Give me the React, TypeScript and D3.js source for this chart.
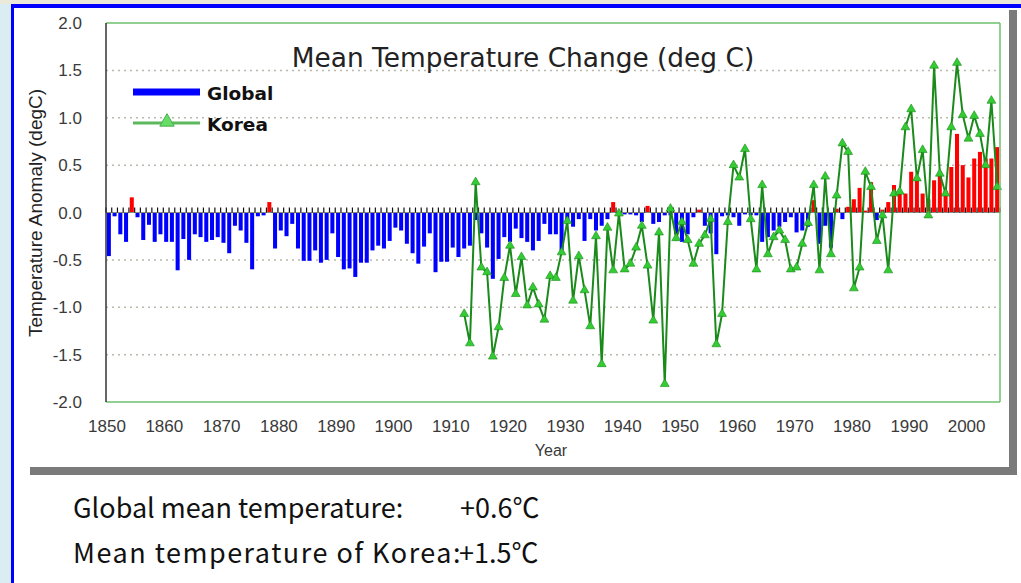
import React from "react";
import * as d3 from "d3";

// ---- Data ----
const globalStartYear = 1850;
const globalValues: number[] = [
  // 1850-1878
  -0.46, -0.04, -0.23, -0.31, 0.16, -0.05, -0.29, -0.13, -0.31, -0.23,
  -0.31, -0.31, -0.61, -0.28, -0.5, -0.23, -0.26, -0.31, -0.29, -0.26,
  -0.32, -0.43, -0.14, -0.19, -0.32, -0.6, -0.04, -0.03, 0.11,
  // 1879-1899
  -0.38, -0.19, -0.25, -0.12, -0.38, -0.51, -0.51, -0.4, -0.53, -0.5,
  -0.22, -0.47, -0.6, -0.59, -0.68, -0.53, -0.53, -0.4, -0.35, -0.38, -0.3,
  // 1900-1911
  -0.16, -0.19, -0.33, -0.43, -0.54, -0.36, -0.22, -0.63, -0.52, -0.52,
  -0.37, -0.47,
  // 1912-1958
  -0.38, -0.35, -0.08, -0.22, -0.37, -0.7, -0.49, -0.26, -0.31, -0.17,
  -0.27, -0.31, -0.4, -0.3, -0.12, -0.23, -0.23, -0.4, -0.1, -0.15,
  -0.07, -0.3, -0.07, -0.19, -0.14, -0.07, 0.11, -0.03, -0.02, -0.02,
  -0.03, -0.1, 0.07, -0.12, -0.1, -0.03, -0.03, -0.23, -0.31, -0.23,
  -0.05, 0.03, -0.14, -0.22, -0.44, -0.04, -0.03,
  // 1959-2005
  -0.05, -0.14, -0.02, -0.03, -0.03, -0.31, -0.26, -0.19, -0.15, -0.1,
  -0.05, -0.21, -0.19, -0.15, 0.13, -0.33, -0.14, -0.37, 0.04, -0.07,
  0.06, 0.14, 0.26, 0.02, 0.32, -0.08, 0.03, 0.11, 0.29, 0.22,
  0.2, 0.43, 0.37, 0.2, 0.14, 0.34, 0.43, 0.23, 0.48, 0.83,
  0.5, 0.37, 0.57, 0.64, 0.57, 0.57, 0.69,
];

const koreaStartYear = 1912;
const koreaValues: number[] = [
  // 1912-1958
  -1.07, -1.38, 0.32, -0.58, -0.63, -1.52, -1.21, -0.69, -0.35, -0.86,
  -0.47, -0.98, -0.79, -0.97, -1.13, -0.67, -0.69, -0.42, -0.09, -0.93,
  -0.46, -0.82, -1.2, -0.25, -1.6, -0.16, -0.61, -0.01, -0.6, -0.54,
  -0.37, -0.14, -0.56, -1.14, -0.21, -1.81, 0.04, -0.27, -0.1, -0.29,
  -0.54, -0.33, -0.24, -0.07, -1.39, -1.07, -0.1,
  // 1959-2005
  0.5, 0.37, 0.67, -0.07, -0.6, 0.29, -0.44, -0.26, -0.19, -0.29,
  -0.6, -0.58, -0.33, -0.11, 0.29, -0.61, 0.38, -0.44, 0.18, 0.73,
  0.64, -0.8, -0.58, 0.43, 0.27, -0.3, -0.03, -0.61, 0.2, 0.22,
  0.9, 1.09, 0.36, 0.66, -0.03, 1.55, 0.41, 0.2, 0.9, 1.58,
  1.03, 0.78, 1.02, 0.83, 0.5, 1.18, 0.27,
];

const xTickYears = [1850, 1860, 1870, 1880, 1890, 1900, 1910, 1920, 1930, 1940, 1950, 1960, 1970, 1980, 1990, 2000];
const yTickValues = [2.0, 1.5, 1.0, 0.5, 0.0, -0.5, -1.0, -1.5, -2.0];
const gridValues = [1.5, 1.0, 0.5, -0.5, -1.0, -1.5];

const titleText = "Mean Temperature Change (deg C)";
const yAxisTitle = "Temperature Anomaly (degC)";
const xAxisTitle = "Year";
const legendLabels = ["Global", "Korea"];
const noteLine1a = "Global mean temperature:";
const noteLine1b = "+0.6\u2103";
const noteLine2a = "Mean temperature of Korea:";
const noteLine2b = "+1.5\u2103";

export default function App() {
  const W = 1021;
  const H = 583;
  const left = 106;
  const right = 1000;
  const top = 23;
  const bottom = 402;

  const x = d3.scaleLinear().domain([1850, 2006]).range([left, right]);
  const y = d3.scaleLinear().domain([-2, 2]).range([bottom, top]);

  const globalData = globalValues.map((v, i) => ({ year: globalStartYear + i, v }));
  const koreaData = koreaValues.map((v, i) => ({ year: koreaStartYear + i, v }));

  const line = d3
    .line<{ year: number; v: number }>()
    .x((d) => x(d.year + 0.5))
    .y((d) => y(d.v));

  const tri = d3.symbol().type(d3.symbolTriangle).size(34)() as string;
  const triLegend = d3.symbol().type(d3.symbolTriangle).size(90)() as string;

  const allYears = d3.range(1850, 2007);
  const pad = 0.85;
  const noteFont = "'Noto Sans CJK KR', sans-serif";

  return (
    <div style={{ position: "absolute", left: 0, top: 0 }}>
      <svg width={W} height={H} style={{ display: "block" }}>
        {/* page background */}
        <rect x={0} y={0} width={W} height={H} fill="#d9edf3" />
        <rect x={0} y={0} width={W} height={4} fill="#ebe9da" />
        <rect x={14} y={8} width={W - 14} height={H - 8} fill="#ffffff" />
        <rect x={11} y={4} width={W - 11} height={4} fill="#0000ff" />
        <rect x={11} y={4} width={3} height={H - 4} fill="#0000ff" />
        {/* chart shadow */}
        <rect x={1009} y={10} width={8} height={465} fill="#7a7a7a" />
        <rect x={30} y={467} width={987} height={8} fill="#7a7a7a" />

        {/* grid lines */}
        {gridValues.map((g) => (
          <line
            key={"g" + g}
            x1={left}
            x2={right}
            y1={y(g)}
            y2={y(g)}
            stroke="#b9b9ae"
            strokeWidth={1.5}
            strokeDasharray="2,4"
          />
        ))}

        {/* bars */}
        {globalData.map((d) => {
          const x0 = x(d.year) + pad;
          const x1 = x(d.year + 1) - pad;
          const y0 = y(Math.max(0, d.v));
          const y1 = y(Math.min(0, d.v));
          return (
            <rect
              key={"b" + d.year}
              x={x0}
              y={y0}
              width={x1 - x0}
              height={Math.max(0.5, y1 - y0)}
              fill={d.v >= 0 ? "#ff0000" : "#0000ff"}
            />
          );
        })}

        {/* zero axis with yearly ticks */}
        <line x1={left} x2={right} y1={y(0)} y2={y(0)} stroke="#8a8a80" strokeWidth={1} />
        {allYears.map((yr) => (
          <line key={"t" + yr} x1={x(yr)} x2={x(yr)} y1={y(0)} y2={y(0) - 5} stroke="#111" strokeWidth={1.2} />
        ))}

        {/* Korea line */}
        <path d={line(koreaData) as string} fill="none" stroke="#1a8a1a" strokeWidth={2} />
        {koreaData.map((d) => (
          <path
            key={"k" + d.year}
            d={tri}
            transform={`translate(${x(d.year + 0.5)},${y(d.v)})`}
            fill="#33cc33"
            stroke="#1a8a1a"
            strokeWidth={0.6}
          />
        ))}

        {/* frame */}
        <line x1={left} x2={right} y1={top} y2={top} stroke="#6cc06c" strokeWidth={1.5} />
        <line x1={right} x2={right} y1={top} y2={bottom} stroke="#6cc06c" strokeWidth={1.5} />
        <line x1={left} x2={right} y1={bottom} y2={bottom} stroke="#6cc06c" strokeWidth={1.5} />
        <line x1={left} x2={left} y1={top} y2={bottom} stroke="#333" strokeWidth={1.5} />

        {/* y tick labels */}
        {yTickValues.map((v) => (
          <text
            key={"yl" + v}
            x={82}
            y={y(v)}
            dy="0.36em"
            textAnchor="end"
            fontFamily="'Liberation Sans', Arial, sans-serif"
            fontSize={17}
            fill="#3a3a3a"
          >
            {v.toFixed(1)}
          </text>
        ))}

        {/* x tick labels */}
        {xTickYears.map((yr) => (
          <text
            key={"xl" + yr}
            x={x(yr) + 1}
            y={432}
            textAnchor="middle"
            fontFamily="'Liberation Sans', Arial, sans-serif"
            fontSize={17}
            fill="#3a3a3a"
          >
            {yr}
          </text>
        ))}
        <text x={551} y={456} textAnchor="middle" fontFamily="'Liberation Sans', Arial, sans-serif" fontSize={16} fill="#3a3a3a">
          {xAxisTitle}
        </text>

        {/* y axis title */}
        <text
          transform={`translate(42,${213}) rotate(-90)`}
          textAnchor="middle"
          fontFamily="'Liberation Sans', Arial, sans-serif"
          fontSize={19}
          fill="#222"
        >
          {yAxisTitle}
        </text>

        {/* title */}
        <text x={523} y={67} textAnchor="middle" fontFamily="'DejaVu Sans', sans-serif" fontSize={26.4} fill="#222">
          {titleText}
        </text>

        {/* legend */}
        <line x1={133} x2={200} y1={92} y2={92} stroke="#0000ff" strokeWidth={7} />
        <text x={207} y={100} fontFamily="'DejaVu Sans', sans-serif" fontWeight="bold" fontSize={18.5} fill="#111">
          {legendLabels[0]}
        </text>
        <line x1={133} x2={200} y1={123} y2={123} stroke="#5cb85c" strokeWidth={3} />
        <path d={triLegend} transform="translate(167,122)" fill="#66dd66" stroke="#4caf50" strokeWidth={1} />
        <text x={207} y={131} fontFamily="'DejaVu Sans', sans-serif" fontWeight="bold" fontSize={18.5} fill="#111">
          {legendLabels[1]}
        </text>

        {/* notes */}
        <text x={73} y={518} fontFamily={noteFont} fontSize={27} fill="#111">
          {noteLine1a}
        </text>
        <text x={460} y={518} fontFamily={noteFont} fontSize={27} fill="#111">
          {noteLine1b}
        </text>
        <text x={73} y={563} fontFamily={noteFont} fontSize={27} fill="#111" letterSpacing={1.5}>
          {noteLine2a}
        </text>
        <text x={459} y={563} fontFamily={noteFont} fontSize={27} fill="#111">
          {noteLine2b}
        </text>
      </svg>
    </div>
  );
}
